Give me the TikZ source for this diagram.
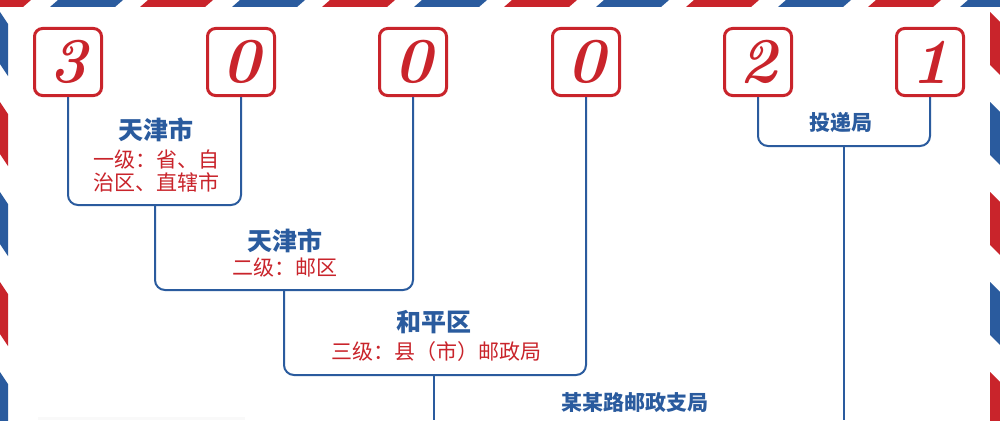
\documentclass[tikz,border=0pt]{standalone}
\usepackage{fontspec}
\newfontfamily\cjk{Noto Sans CJK SC}
\usetikzlibrary{positioning}
\definecolor{mailred}{HTML}{C9242B}
\definecolor{mailblue}{HTML}{2A5B9E}

\begin{document}
\begin{tikzpicture}[x=1pt, y=-1pt,
  digit/.style={draw=mailred, line width=3pt, rounded corners=8pt, minimum size=67pt, inner sep=0pt, text=mailred, font=\bfseries\itshape\fontsize{64}{64}\selectfont},
  title/.style={text=mailblue, inner sep=0pt, font=\cjk\bfseries\fontsize{25}{28}\selectfont},
  subtitle/.style={text=mailblue, inner sep=0pt, font=\cjk\bfseries\fontsize{21}{24}\selectfont},
  level/.style={text=mailred, align=center, inner sep=0pt, font=\cjk\fontsize{21}{23}\selectfont},
  link/.style={draw=mailblue, line width=2pt, rounded corners=10pt}]
\useasboundingbox (0,0) rectangle (1000,420);
\fill[white] (0,0) rectangle (1000,420);
% airmail border
\begin{scope}
\clip (0,0) rectangle (1000,420);
\foreach \a/\c in {-34/mailred,58/mailblue,148/mailred,240/mailblue,330/mailred,422/mailblue,512/mailred,604/mailblue,694/mailred,786/mailblue,876/mailred,968/mailblue}
  \fill[\c] (\a,0) -- ++(65,0) -- ++(-8,7) -- ++(-65,0) -- cycle;
\foreach \b/\c in {12/mailblue,102/mailred,192/mailblue,282/mailred,372/mailblue}
  \fill[\c] (0,\b) -- ++(8,12) -- ++(0,52) -- ++(-8,-12) -- cycle;
\foreach \b/\c in {12/mailred,102/mailblue,192/mailred,282/mailblue,372/mailred}
  \fill[\c] (990,\b) -- ++(10,10) -- ++(0,53) -- ++(-10,-10) -- cycle;
\fill[gray!5] (38,417) rectangle (245,420);
\end{scope}
% postcode digits
\node[digit] (d1) at (68,62) {3};
\node[digit] (d2) at (241,62) {0};
\node[digit] (d3) at (413,62) {0};
\node[digit] (d4) at (586,62) {0};
\node[digit] (d5) at (758,62) {2};
\node[digit] (d6) at (930,62) {1};
% junctions
\coordinate (j1) at (155,205);
\coordinate (j2) at (284,290);
\coordinate (j3) at (434,375);
\coordinate (j5) at (844,146);
\coordinate (end3) at (434,420);
\coordinate (end5) at (844,420);
% labels
\node[title] (prov) at (156,130) {天津市};
\node[level] (provlvl) at (156,171) {一级：省、自\\治区、直辖市};
\node[title] (zone) at (285,241) {天津市};
\node[level] (zonelvl) at (285,268) {二级：邮区};
\node[title] (county) at (434,322) {和平区};
\node[level] (countylvl) at (436,352) {三级：县（市）邮政局};
\node[subtitle] (branch) at (635,403) {某某路邮政支局};
\node[subtitle] (deliver) at (841,122) {投递局};
% connectors
\draw[link] (d1.south) |- (j1) -| (d2.south);
\draw[link] (j1) |- (j2) -| (d3.south);
\draw[link] (j2) |- (j3) -| (d4.south);
\draw[link] (j3) -- (end3);
\draw[link] (d5.south) |- (j5) -| (d6.south);
\draw[link] (j5) -- (end5);
\end{tikzpicture}
\end{document}
